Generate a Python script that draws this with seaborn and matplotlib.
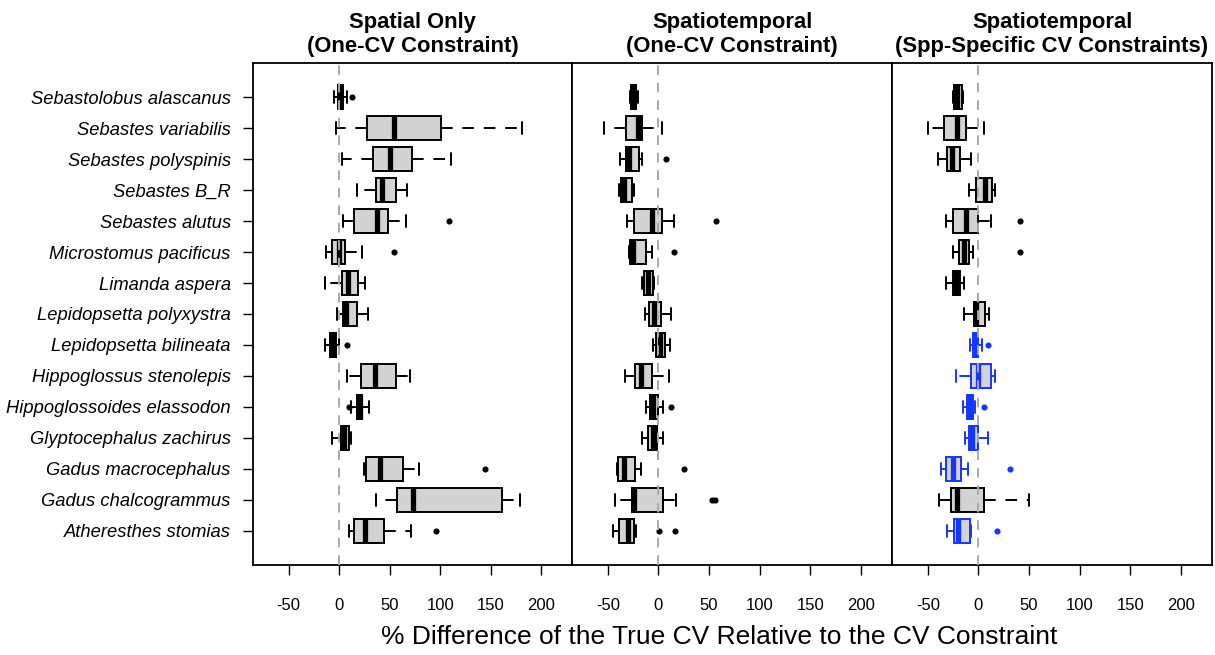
import matplotlib
matplotlib.use("Agg")
import matplotlib.pyplot as plt
import numpy as np
import pandas as pd
import seaborn as sns

species = [
    "Sebastolobus alascanus", "Sebastes variabilis", "Sebastes polyspinis",
    "Sebastes B_R", "Sebastes alutus", "Microstomus pacificus", "Limanda aspera",
    "Lepidopsetta polyxystra", "Lepidopsetta bilineata", "Hippoglossus stenolepis",
    "Hippoglossoides elassodon", "Glyptocephalus zachirus", "Gadus macrocephalus",
    "Gadus chalcogrammus", "Atheresthes stomias",
]

panel_titles = [
    "Spatial Only\n(One-CV Constraint)",
    "Spatiotemporal\n(One-CV Constraint)",
    "Spatiotemporal\n(Spp-Specific CV Constraints)",
]

x_ticks = [-50, 0, 50, 100, 150, 200]
x_label = "% Difference of the True CV Relative to the CV Constraint"

# Spatial only, one-CV constraint: whisker ends, hinges, medians, outliers
sp_lo = [-5.5, -3.5, 3, 18, 3.5, -13, -14.5, -2.5, -14, 7.5, 12, -7.5, 25, 36.5, 9.5]
sp_q1 = [-1.5, 28, 33, 36, 15, -7.5, 2.5, 4, -9.5, 21.5, 18, 1.5, 27, 57.5, 14.5]
sp_med = [1, 54, 50, 42, 37, 0, 9, 7, -6, 35.5, 20.5, 4.5, 40.5, 73.5, 26]
sp_q3 = [3.5, 101, 72, 56.5, 48.5, 6, 18.5, 17.5, -3.5, 56.5, 23, 10, 63.5, 161.5, 44.5]
sp_hi = [7.5, 181, 111, 67, 66, 23, 25.5, 28.5, -0.5, 70.5, 29.5, 11.5, 79, 179.5, 71.5]
sp_out = [[12.5], [], [], [], [109], [54], [], [], [7.5], [], [9.5], [], [144], [], [95.5]]

# Spatiotemporal, one-CV constraint
st_lo = [-28.5, -53.5, -38, -38.5, -31, -29, -16.5, -13.5, -5, -33, -12, -16.5, -41, -43, -44.5]
st_q1 = [-27.5, -32, -32, -37.5, -24.5, -28, -14, -9, -2, -23, -8, -10, -40, -26.5, -39]
st_med = [-25, -20, -29.5, -34, -6, -25, -10, -4, 1.5, -17, -5, -5, -34, -24, -30.5]
st_q3 = [-22, -16, -19, -26, 3.5, -12.5, -5, 2, 6.5, -6.5, -0.5, -1, -23, 4.5, -24]
st_hi = [-20.5, 3.5, -16, -24, 15, -6.5, -4, 12.5, 11.5, 10, 4, 4.5, -17.5, 17.5, -22]
st_out = [[], [], [7], [], [56.5], [15.5], [], [], [], [], [12], [], [25.5], [52.5, 56], [0.5, 16.5]]

# Spatiotemporal, species-specific CV constraints
ss_lo = [-25, -49.5, -39.5, -9.5, -32.5, -25, -32, -14.5, -8.5, -22, -15, -13, -37.5, -38.5, -31.5]
ss_q1 = [-24, -34, -31.5, -2.5, -25, -19, -25, -4.5, -5.5, -7, -11, -9, -32, -27, -24]
ss_med = [-21, -21, -26.5, 6.5, -12, -14, -22, -2, -3, -0.5, -8, -6, -25.5, -21.5, -20]
ss_q3 = [-16, -12, -18.5, 13.5, -0.5, -9, -18, 6, 0, 12, -5, -0.5, -17, 5.5, -8]
ss_hi = [-15, 5.5, -7.5, 16, 12.5, -5.5, -14.5, 10, 3, 16.5, -3, 9, -10.5, 49.5, -7.5]
ss_out = [[], [], [], [], [41], [41], [], [], [9.5], [], [5], [], [31], [], [18.5]]
ss_group = ["one", "one", "one", "one", "one", "one", "one", "one",
            "spp", "spp", "spp", "spp", "spp", "one", "spp"]

FILL = "#D3D3D3"
EDGE = {"one": "black", "spp": "#1436FF"}


def box_sample(lo, q1, med, q3, hi, out, k=4):
    """Sorted values whose linear quartiles and 1.5-IQR whiskers give the stated box."""
    low = sorted(v for v in out if v < q1)
    high = sorted(v for v in out if v > q3)
    return (low + [lo] + [q1] * (k - len(low)) + [med] * (2 * k - 1)
            + [q3] * (k - len(high)) + [hi] + high)


def panel_frame(lo, q1, med, q3, hi, out, group=None):
    rows = []
    for i, sp in enumerate(species):
        g = group[i] if group is not None else "one"
        for v in box_sample(lo[i], q1[i], med[i], q3[i], hi[i], out[i]):
            rows.append({"species": sp, "value": v, "group": g})
    return pd.DataFrame(rows)


panels = [
    panel_frame(sp_lo, sp_q1, sp_med, sp_q3, sp_hi, sp_out),
    panel_frame(st_lo, st_q1, st_med, st_q3, st_hi, st_out),
    panel_frame(ss_lo, ss_q1, ss_med, ss_q3, ss_hi, ss_out, ss_group),
]

sns.set_style("white")
plt.rcParams["font.family"] = ["Liberation Sans", "DejaVu Sans"]
plt.rcParams["text.color"] = "black"
plt.rcParams["xtick.color"] = "black"
plt.rcParams["ytick.color"] = "black"
plt.rcParams["xtick.labelcolor"] = "black"
plt.rcParams["ytick.labelcolor"] = "black"

W, H = 1215, 655
fig = plt.figure(figsize=(W / 100, H / 100), dpi=100)

left_px = [253, 572, 892]
right_px = [572, 892, 1212]
top_px, bottom_px = 63, 565

for p, df in enumerate(panels):
    ax = fig.add_axes([left_px[p] / W, 1 - bottom_px / H,
                       (right_px[p] - left_px[p]) / W, (bottom_px - top_px) / H])
    for g, sub in df.groupby("group"):
        col = EDGE[g]
        sns.boxplot(
            data=sub, x="value", y="species", order=species, orient="h", ax=ax,
            width=0.8, color=FILL, linecolor=col, linewidth=1.4, saturation=1,
            whis=1.5, fliersize=3.4,
            flierprops=dict(marker="o", markerfacecolor=col, markeredgecolor=col),
            medianprops=dict(linewidth=3.8, solid_capstyle="butt"),
            whiskerprops=dict(linestyle=(0, (6, 5))),
        )
    ax.axvline(0, color="#A9A9A9", lw=1.4, ls=(0, (5, 4)), zorder=3)
    ax.set_xlim(-85.4, 230.6)
    ax.set_ylim(len(species) - 1 + 1.1, -1.1)
    ax.set_xticks(x_ticks)
    ax.set_xticklabels([str(t) for t in x_ticks], fontsize=12, color="black")
    ax.tick_params(axis="x", direction="out", length=7, width=1.0, pad=17,
                   bottom=True, color="black")
    ax.set_xlabel("")
    ax.set_ylabel("")
    for s in ax.spines.values():
        s.set_color("black")
        s.set_linewidth(1.3)
        s.set_visible(True)
    if p == 0:
        ax.tick_params(axis="y", direction="out", length=7, width=1.0, pad=9,
                       left=True, color="black")
        for lab in ax.get_yticklabels():
            lab.set_fontstyle("italic")
            lab.set_fontsize(13.2)
            lab.set_color("black")
    else:
        ax.tick_params(axis="y", left=False, labelleft=False)
    ax.set_title(panel_titles[p], fontsize=15.8, fontweight="bold", pad=8,
                 linespacing=1.2, color="black")

fig.text(719 / W, 1 - 637 / H, x_label, fontsize=19, ha="center", va="center",
         color="black")

fig.savefig("out.png", dpi=100)
